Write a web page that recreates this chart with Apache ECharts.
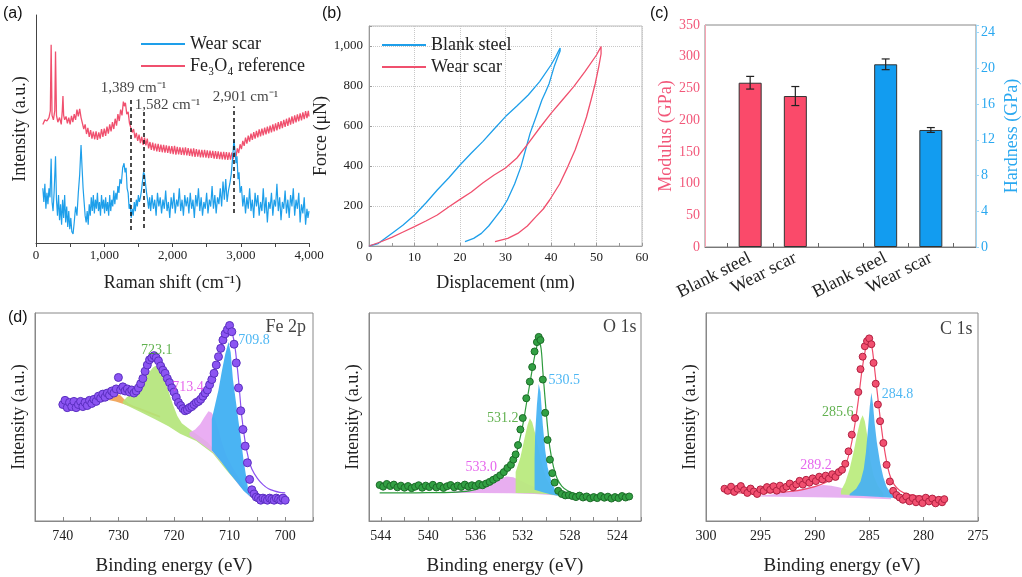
<!DOCTYPE html>
<html><head><meta charset="utf-8">
<script src="https://cdn.jsdelivr.net/npm/echarts@6/dist/echarts.min.js"></script>
<style>html,body{margin:0;padding:0;background:#fff}#c{width:1022px;height:577px}</style>
</head><body><div id="c"></div>
<script>
// ---------- (a) Raman spectra ----------
const ramanFe3O4 = [[100,52],[130,54],[160,53.5],[190,55],[210,58],[222,87],[235,56],[255,54],[275,58],[286,84],[300,56],[320,53],[345,55],[370,52],[385,58],[395,64.5],[405,56],[420,54],[440,55.5],[460,52.5],[480,55],[500,52],[520,55.8],[540,53],[560,56.5],[580,54],[600,58.5],[620,55.5],[640,58.8],[660,55],[680,54.5],[700,50],[720,52],[740,47.8],[760,50.5],[780,46.5],[800,49.5],[820,45.8],[840,48.8],[860,45.5],[880,49],[900,45.2],[920,48.5],[940,45.8],[960,50],[980,46.5],[1000,50.2],[1020,47],[1040,51],[1060,48],[1080,52],[1100,49],[1120,53],[1140,50],[1160,54.5],[1180,51.5],[1200,56.5],[1220,53.5],[1240,58.5],[1260,56],[1280,62],[1295,60],[1310,61.5],[1330,56.5],[1350,57.5],[1370,52.5],[1390,53],[1410,48.5],[1430,50],[1450,46],[1470,48.3],[1490,44.8],[1510,47.5],[1530,43.8],[1550,46.6],[1570,43],[1590,46.2],[1610,42.8],[1630,45.8],[1650,41.5],[1670,44.3],[1690,40.8],[1710,44],[1730,40.5],[1750,43.6],[1770,40.2],[1790,43.5],[1810,40],[1830,43.2],[1850,39.8],[1870,43],[1890,39.6],[1910,42.8],[1930,39.5],[1950,42.6],[1970,39.2],[1990,42.5],[2010,39],[2030,42.6],[2050,38.8],[2070,42.2],[2090,38.9],[2110,42],[2130,38.6],[2150,41.8],[2170,38.5],[2190,42],[2210,38.4],[2230,41.6],[2250,38.2],[2270,41.4],[2290,38],[2310,41.5],[2330,37.8],[2350,41.2],[2370,37.9],[2390,41],[2410,37.6],[2430,40.8],[2450,37.5],[2470,40.9],[2490,37.4],[2510,40.6],[2530,37.2],[2550,40.5],[2570,37.3],[2590,40.4],[2610,37],[2630,40.3],[2650,36.9],[2670,40.2],[2690,36.8],[2710,40],[2730,36.7],[2750,40],[2770,36.6],[2790,39.9],[2810,36.5],[2830,39.8],[2850,36.6],[2870,39.6],[2890,36.8],[2910,39.8],[2930,37.8],[2950,41.5],[2970,39.5],[2990,43.3],[3010,41.2],[3030,44.8],[3050,42.6],[3070,46.2],[3090,43.6],[3110,47.1],[3130,44.5],[3150,48],[3170,45.2],[3190,48.6],[3210,45.8],[3230,49.2],[3250,46.3],[3270,49.8],[3290,46.8],[3310,50.2],[3330,47.2],[3350,50.6],[3370,47.6],[3390,51],[3410,48.1],[3430,51.5],[3450,48.5],[3470,52],[3490,49],[3510,52.5],[3530,49.4],[3550,53],[3570,49.9],[3590,53.5],[3610,50.4],[3630,54],[3650,50.9],[3670,54.5],[3690,51.4],[3710,55],[3730,51.9],[3750,55.5],[3770,52.4],[3790,56],[3810,52.9],[3830,56.4],[3850,53.4],[3870,56.9],[3890,53.8],[3910,57.3],[3930,54.3],[3950,57.8],[3970,54.8],[3990,58],[4000,55.5]];
const ramanWearScar = [[100,24],[115,18],[130,26],[145,15],[160,22],[175,17],[190,24],[205,20],[222,37],[235,18],[250,14],[265,22],[286,38],[300,19],[315,12],[330,21],[345,10],[360,17],[375,8],[390,19],[405,11],[420,21],[435,9],[450,16],[465,7],[480,14],[495,6],[510,11],[525,5],[543,4],[560,9],[580,16],[600,12],[620,22],[640,30],[660,43],[675,33],[690,24],[705,18],[720,12],[735,9],[750,14],[765,8],[780,17],[795,12],[810,20],[825,14],[840,21],[855,13],[870,19],[885,15],[900,22],[915,14],[930,18],[945,12],[960,21],[975,15],[990,19],[1005,13],[1020,20],[1035,14],[1050,18],[1065,12],[1080,21],[1095,14],[1110,19],[1125,16],[1140,23],[1155,17],[1170,22],[1185,19],[1200,25],[1215,22],[1230,28],[1250,26],[1270,33],[1290,35],[1305,31],[1320,33],[1335,24],[1350,22],[1365,15],[1380,17],[1395,11],[1410,15],[1425,12],[1440,18],[1455,14],[1470,19],[1485,16],[1500,21],[1515,18],[1530,20],[1545,23],[1560,27],[1575,31],[1590,30],[1605,26],[1620,22],[1635,19],[1650,15],[1665,20],[1680,14],[1700,21],[1720,15],[1740,19],[1760,12],[1780,22],[1800,16],[1820,20],[1840,13],[1860,19],[1880,15],[1900,23],[1920,14],[1940,18],[1960,11],[1980,20],[2000,15],[2020,22],[2040,13],[2060,19],[2080,16],[2100,24],[2120,14],[2140,19],[2160,12],[2180,21],[2200,16],[2220,20],[2240,13],[2260,22],[2280,15],[2300,19],[2320,11],[2340,21],[2360,16],[2380,24],[2400,14],[2420,20],[2440,12],[2460,18],[2480,15],[2500,22],[2520,13],[2540,19],[2560,16],[2580,25],[2600,15],[2620,21],[2640,13],[2660,20],[2680,17],[2700,24],[2720,16],[2740,27],[2760,19],[2780,28],[2800,18],[2820,23],[2840,26],[2860,30],[2880,37],[2900,45],[2915,41],[2930,35],[2945,38],[2960,28],[2975,31],[2990,22],[3010,25],[3030,16],[3050,21],[3070,13],[3090,20],[3110,15],[3130,24],[3150,14],[3170,19],[3190,11],[3210,22],[3230,16],[3250,21],[3270,12],[3290,18],[3310,14],[3330,24],[3350,13],[3370,20],[3390,9],[3410,18],[3430,15],[3450,22],[3470,12],[3490,19],[3510,16],[3530,26],[3550,14],[3570,20],[3590,10],[3610,18],[3630,15],[3650,23],[3670,13],[3690,19],[3710,11],[3730,21],[3750,16],[3770,24],[3790,12],[3810,19],[3830,15],[3850,22],[3870,9],[3890,17],[3910,13],[3930,20],[3950,8],[3970,15],[3985,11],[4000,14]];
const ramanPeakLines = [[1389, 5.7, 64], [1582, 6.6, 57.5], [2901, 13.2, 60]];
const ramanPeakLabels = [[1429, 68, '1,389 cm⁻¹'], [1927, 60.5, '1,582 cm⁻¹'], [3070, 64, '2,901 cm⁻¹']];

// ---------- (b) load-displacement ----------
const blankLoading = [[0,0],[2,12],[5,63],[7.5,105],[10,155],[12.5,215],[15,280],[17.5,340],[20,405],[22.5,465],[25,522],[27.5,585],[30,647],[32.5,700],[35,755],[37.5,822],[40,905],[41,945],[42,990],[42.3,1000]];
const blankUnloading = [[42.3,1000],[42,975],[41.4,940],[40.7,897],[39.6,813],[38.8,770],[38,730],[36.7,645],[35.4,563],[34.4,480],[33.4,397],[32,310],[30.4,230],[29.2,185],[27.9,147],[26.3,100],[24.7,63],[23,38],[21.1,22]];
const scarLoading = [[0,0],[2.5,20],[5,43],[7.5,70],[10,97],[12.5,125],[15,155],[17.5,195],[20,233],[22.5,270],[25,315],[27.5,355],[30,390],[32.5,440],[35,513],[37.5,590],[40,663],[42.5,730],[45,797],[47.5,873],[50,955],[51,997]];
const scarUnloading = [[51.2,1000],[51,960],[50.5,897],[49.7,810],[48.8,730],[47.8,645],[46.6,563],[45.3,480],[43.7,397],[41.9,310],[39.7,230],[38.3,185],[36.7,147],[34.8,100],[32.7,63],[30.5,38],[27.7,22]];

// ---------- (c) modulus / hardness ----------
const mechCategories = ['Blank steel', 'Wear scar'];
const modulusPositions = [1, 2];
const modulusValues = [259, 238];
const modulusErrors = [10, 15];
const hardnessPositions = [4, 5];
const hardnessValues = [20.45, 13.1];
const hardnessErrors = [0.6, 0.27];

// ---------- (d) XPS ----------
const fe2pPoints = [[740.0,56],[739.6,58],[739.2,54.5],[738.8,57],[738.4,55],[738.0,57.5],[737.6,54.5],[737.2,56],[736.8,57.5],[736.4,55],[736.0,57],[735.6,55.5],[735.2,58],[734.8,56.5],[734.4,58.5],[734.0,57.5],[733.6,60],[733.2,59],[732.8,61],[732.4,59.5],[732.0,61.5],[731.6,60.5],[731.2,62.5],[730.8,61.5],[730.4,63.5],[730.0,69],[729.6,63],[729.2,64.5],[728.8,62.5],[728.4,63.5],[728.0,62],[727.6,63],[727.2,61.5],[726.8,62.5],[726.4,64],[726.0,66],[725.6,68.5],[725.2,72],[724.8,75],[724.4,77.5],[724.0,78.5],[723.6,79.5],[723.2,78.5],[722.8,77],[722.4,74.5],[722.0,72.5],[721.6,71],[721.2,68.5],[720.8,66.5],[720.4,64],[720.0,62],[719.6,59.5],[719.2,57],[718.8,55.5],[718.4,54],[718.0,53],[717.6,53.5],[717.2,54.5],[716.8,55],[716.4,56],[716.0,57],[715.6,57.5],[715.2,58.5],[714.8,60],[714.4,61.5],[714.0,63],[713.6,65.5],[713.2,68],[712.8,71],[712.4,75],[712.0,79],[711.6,83],[711.2,87],[710.8,90],[710.4,92],[710.0,94],[709.6,91],[709.2,85],[708.8,76],[708.4,64],[708.0,53],[707.6,44],[707.2,36],[706.8,28],[706.4,20],[706.0,15],[705.6,13],[705.2,11.5],[704.8,11],[704.4,10],[704.0,11],[703.6,10.5],[703.2,10],[702.8,11],[702.4,10.5],[702.0,10],[701.6,11],[701.2,10.5],[700.8,10],[700.4,11],[700.0,10]];
const fe2pEnvelope = [[740,55.5],[736,57],[733,60],[731,62],[729,63],[727,62.5],[725.5,67],[724.3,75],[723.3,78],[722,73],[720.5,64.5],[719,56],[717.5,52],[716,55.5],[714.5,60.5],[713,68],[712,77],[711,88],[710.2,93],[709.6,91],[709,83],[708.4,68],[707.8,50],[707.2,38],[706.6,30],[706,25],[705,20.5],[704,17.5],[703,15.5],[702,14.5],[701,13.8],[700,13.5]];
const fe2pSatellite = [[733.3,58.8],[732.2,59.3],[731.2,60.2],[730.4,61.3],[729.7,60.6],[729.0,58.6],[728.2,56.6],[727.2,55.3],[726.0,54.2],[724.5,52.6],[722.5,50.6],[722.5,49.6],[724.5,51.6],[726.5,53.8],[728.5,55.8],[730.5,57.4],[732.5,58.5]];
const fe2pPeak723 = [[729.2,57.5],[728.5,59.5],[727.6,61],[726.6,63],[725.6,66.5],[724.6,71],[723.8,73.8],[723.3,74.6],[722.6,73],[721.8,68.5],[721.0,62.5],[720.2,56],[719.4,50.5],[718.6,47],[717.6,45],[716.6,43],[715.4,40.8],[714,38],[712.5,33.5],[711,28.5],[709.5,23.5],[708,18.5],[706.8,14.5],[706,12],[706,11],[707.5,15],[708.5,18],[710.6,24.5],[713,32.5],[716,38.5],[718.9,42],[721,45.5],[723.5,49],[726.5,53],[729.2,56.5]];
const fe2pPeak713 = [[717.2,42.5],[716.2,44],[715.3,46.5],[714.5,50],[713.8,52.8],[713.2,52],[712.6,49],[712,44],[711.3,37],[710.5,31],[709.5,26],[708.3,20.5],[707,15.5],[706.3,13],[706.3,11.5],[708.2,16.8],[710.6,25.5],[713,33],[716,39],[717.2,41]];
const fe2pPeak709 = [[713.2,49],[712.6,56],[712,63],[711.4,72],[710.8,80],[710.2,86],[709.8,81],[709.4,68],[708.9,58],[708.4,48],[707.9,38],[707.5,29.5],[707,21],[706.6,14.2],[706.2,11.5],[707.5,14.5],[708.5,18],[710,23],[711.5,28.5],[713.2,34]];
const fe2pLabels = [[723.1, 82, '723.1', '#3a9d23'], [717.5, 64.2, '713.4', '#e040e8'], [705.6, 86.7, '709.8', '#22a5f0'], [699.9, 93, 'Fe 2p', '#111']];

const o1sPoints = [[544.1,17.3],[543.8,16.5],[543.5,17.8],[543.2,16.8],[542.9,17.5],[542.6,16.2],[542.3,17],[542.0,16],[541.7,16.8],[541.4,15.8],[541.1,16.5],[540.8,17.2],[540.5,16],[540.2,17],[539.9,16.3],[539.6,17.4],[539.3,16.1],[539.0,16.9],[538.7,15.9],[538.4,16.7],[538.1,17.3],[537.8,16.2],[537.5,17],[537.2,16.4],[536.9,17.5],[536.6,16.6],[536.3,17.2],[536.0,16.8],[535.7,17.8],[535.4,17.2],[535.1,18],[534.8,18.8],[534.5,19.8],[534.2,20.8],[533.9,22],[533.6,23.5],[533.3,25.5],[533.0,27],[532.8,29.5],[532.6,32],[532.4,36.5],[532.2,44],[532.0,49.5],[531.7,59],[531.4,67],[531.2,74],[531.0,81.5],[530.8,86],[530.65,88.5],[530.5,87],[530.3,68],[530.1,52],[529.9,39],[529.7,29.5],[529.5,23],[529.3,18.5],[529.0,14.5],[528.7,13],[528.4,12.3],[528.1,12.5],[527.8,12],[527.5,11.5],[527.2,12.2],[526.9,11.3],[526.6,11.8],[526.3,10.9],[526.0,11.5],[525.7,11],[525.4,12],[525.1,11.2],[524.8,11.7],[524.5,10.8],[524.2,11.5],[523.9,11],[523.6,12],[523.3,11.3],[523.0,11.8]];
const o1sEnvelope = [[544.1,13.5],[542,13.5],[540,13.6],[538,13.8],[536.5,14.5],[535.5,16],[534.8,18],[534.2,20],[533.6,23],[533,27],[532.6,31.5],[532.3,38],[532,46],[531.7,56],[531.4,66],[531.1,76],[530.85,83],[530.65,86.5],[530.45,83],[530.3,72],[530.1,58],[529.9,45],[529.7,35],[529.4,26],[529.1,20.5],[528.7,16.8],[528.2,14.5],[527.5,13],[526.5,12],[525,11.6],[523,11.4]];
const o1sPeak533 = [[539.5,13.6],[538,14.1],[536.5,15],[535.3,16.5],[534.5,18.3],[533.9,20.2],[533.4,21.4],[532.8,21],[532.2,19.5],[531.6,17.8],[530.8,16],[530,14.5],[529,12.8],[529,12.2],[531,13],[533,13.4],[536,13.5],[539.5,13.5]];
const o1sPeak531 = [[532.6,13.5],[532.6,23.5],[532.2,30.5],[531.9,38.5],[531.6,46],[531.4,49.4],[531.2,47.5],[530.9,41],[530.6,33],[530.3,26],[530,20.5],[529.6,16.5],[529.2,14],[528.8,12.6],[528.8,12],[530,13],[531.2,13.3]];
const o1sPeak530 = [[531.0,15],[531.0,30],[530.95,42],[530.8,56],[530.65,65.9],[530.5,62],[530.3,46],[530.1,34],[529.9,26],[529.6,19.5],[529.3,15.5],[528.9,12.5],[528.9,12],[529.6,12.8],[530.3,13.8]];
const o1sLabels = [[528.5, 67.4, '530.5', '#22a5f0'], [533.7, 49.5, '531.2', '#3a9d23'], [535.5, 26, '533.0', '#e040e8'], [523.8, 93, 'O 1s', '#111']];

const c1sPoints = [[298.3,15.5],[298.0,14.5],[297.7,16.5],[297.4,14],[297.1,15.5],[296.8,16.8],[296.5,14.8],[296.2,13.5],[295.9,15.6],[295.6,14.2],[295.3,13],[295.0,15.2],[294.7,14.4],[294.4,16.3],[294.1,15],[293.8,16.7],[293.5,14.6],[293.2,17],[292.9,15.4],[292.6,16.5],[292.3,18],[292.0,16.2],[291.7,17.6],[291.4,19.3],[291.1,17.5],[290.8,19.8],[290.5,18.4],[290.2,20.5],[289.9,19.2],[289.6,21.3],[289.3,20],[289.0,21.8],[288.7,20.4],[288.4,22.5],[288.1,21.2],[287.8,23.5],[287.5,24.6],[287.2,27.5],[286.9,33.5],[286.6,41.5],[286.3,49.5],[286.0,62],[285.8,73],[285.6,79],[285.4,84],[285.2,86.5],[285.0,87.8],[284.8,85],[284.6,76],[284.4,66],[284.2,56],[284.0,48],[283.7,37.5],[283.4,27],[283.1,19],[282.8,14.5],[282.5,12.5],[282.2,11.3],[281.9,10.2],[281.6,11.8],[281.3,9.5],[281.0,11],[280.7,9],[280.4,10.6],[280.1,8.6],[279.8,11.2],[279.5,9.4],[279.2,10.8],[278.9,8.5],[278.6,10.2],[278.3,9],[278.1,10.5]];
const c1sEnvelope = [[298.3,13.5],[296,13.5],[294,13.6],[292,14.3],[291,15.2],[290,16.5],[289,18.5],[288,21.5],[287.5,24],[287,29.5],[286.6,38],[286.3,47],[286,58],[285.7,71],[285.4,81],[285.1,87.2],[284.9,87],[284.7,82],[284.5,73],[284.2,59],[284,50],[283.7,38],[283.4,28.5],[283.1,22],[282.7,17.5],[282.2,14.7],[281.5,13],[280,11.8],[278.2,11.2]];
const c1sPeak289 = [[295.5,12],[294,12.8],[293,13.6],[292,14.6],[291,15.8],[290,16.8],[289.2,17.3],[288.5,17],[287.8,16.2],[287,15],[286,13.6],[285,12.5],[284,11.6],[283,11],[283,10.5],[286,11],[290,11.4],[295.5,11.8]];
const c1sPeak285 = [[287.6,12.8],[287.6,14.5],[287.2,18.5],[286.8,25],[286.4,34],[286.1,42],[285.8,48.5],[285.6,50.9],[285.4,48],[285.2,41.7],[284.9,29.5],[284.6,22],[284.2,17],[283.7,13.5],[283.7,12],[285.5,12.3]];
const c1sPeak284 = [[286.8,12.3],[286.8,13],[286.2,15.5],[285.8,19],[285.5,25],[285.3,33],[285.1,45],[284.95,55],[284.8,61.6],[284.65,56],[284.5,47],[284.3,38],[284.0,28],[283.7,21],[283.4,16.5],[283.0,13.2],[282.7,12],[282.7,11],[284,11.5],[285.5,12]];
const c1sLabels = [[282.4, 61, '284.8', '#22a5f0'], [287.9, 52.3, '285.6', '#3a9d23'], [289.9, 26.6, '289.2', '#e040e8'], [277.0, 92, 'C 1s', '#111']];

// ---------- styling ----------
const SERIF = 'Liberation Serif';
const SANS = 'Liberation Sans';
const BLUE = '#1E9FEA', RED = '#F0506E';
const thousands = v => Number(v).toLocaleString('en-US');

function polySeries(ai, poly, color) {
  return { type: 'custom', xAxisIndex: ai, yAxisIndex: ai, silent: true, z: 1, data: [poly[0]],
    renderItem: (params, api) => ({ type: 'polygon', shape: { points: poly.map(p => api.coord(p)) },
      style: { fill: color } }) };
}
function labelSeries(xi, yi, arr, size) {
  return { type: 'scatter', xAxisIndex: xi, yAxisIndex: yi, silent: true, symbolSize: 1, z: 10,
    itemStyle: { color: 'rgba(0,0,0,0)' },
    data: arr.map(([x, y, t, c]) => ({ value: [x, y], name: t,
      label: { show: true, position: 'inside', formatter: t, color: c || '#111',
        fontFamily: SERIF, fontSize: (t.indexOf(' ') > 0 && t.length < 6 ? 18 : size) } })) };
}
function errorSeries(xi, yi, pos, vals, errs) {
  return { type: 'custom', xAxisIndex: xi, yAxisIndex: yi, silent: true, z: 5,
    data: pos.map((p, i) => [p, vals[i], errs[i]]),
    renderItem: (params, api) => {
      const x = api.value(0), m = api.value(1), e = api.value(2);
      const t = api.coord([x, m + e]), b = api.coord([x, m - e]);
      const st = { stroke: '#222', lineWidth: 1.2 };
      return { type: 'group', children: [
        { type: 'line', shape: { x1: t[0], y1: t[1], x2: b[0], y2: b[1] }, style: st },
        { type: 'line', shape: { x1: t[0] - 4, y1: t[1], x2: t[0] + 4, y2: t[1] }, style: st },
        { type: 'line', shape: { x1: b[0] - 4, y1: b[1], x2: b[0] + 4, y2: b[1] }, style: st }] };
    } };
}
const nameStyle = { fontFamily: SERIF, fontSize: 18, color: '#222' };
function xpsX(gi, min, max, interval, labelEvery) {
  return { type: 'value', gridIndex: gi, inverse: true, min: min, max: max, interval: interval,
    name: 'Binding energy (eV)', nameLocation: 'middle', nameGap: 36,
    nameTextStyle: { fontFamily: SERIF, fontSize: 19, color: '#222' },
    axisLine: { lineStyle: { color: '#888', width: 1 } },
    axisTick: { inside: true, length: 4, lineStyle: { color: '#888' } },
    axisLabel: { margin: 8, fontFamily: SERIF, fontSize: 14, color: '#222',
      formatter: v => (Math.round(v) % labelEvery === 0 ? String(v) : '') },
    splitLine: { show: false } };
}
function xpsY(gi) {
  return { type: 'value', gridIndex: gi, min: 0, max: 100, name: 'Intensity (a.u.)',
    nameLocation: 'middle', nameGap: 7, nameRotate: 90, nameTextStyle: nameStyle,
    axisLine: { show: true, lineStyle: { color: '#888' } }, axisTick: { show: false },
    axisLabel: { show: false }, splitLine: { show: false } };
}
function scatterSeries(ai, pts, fill, edge, size) {
  return { type: 'scatter', xAxisIndex: ai, yAxisIndex: ai, data: pts, symbolSize: size, z: 6, silent: true,
    itemStyle: { color: fill, borderColor: edge, borderWidth: 1, opacity: 1 } };
}
function envSeries(ai, pts, color) {
  return { type: 'line', xAxisIndex: ai, yAxisIndex: ai, data: pts, symbol: 'none',
    smooth: 0.3, z: 4, silent: true, lineStyle: { color: color, width: 1.2 } };
}

const option = {
  backgroundColor: '#fff',
  animation: false,
  textStyle: { fontFamily: SERIF },
  graphic: [
    { type: 'text', left: 3, top: 6, style: { text: '(a)', font: '16px ' + SANS, fill: '#111' } },
    { type: 'text', left: 322, top: 6, style: { text: '(b)', font: '16px ' + SANS, fill: '#111' } },
    { type: 'text', left: 650, top: 6, style: { text: '(c)', font: '16px ' + SANS, fill: '#111' } },
    { type: 'text', left: 8, top: 310, style: { text: '(d)', font: '16px ' + SANS, fill: '#111' } }
  ],
  grid: [
    { left: 36, top: 15, width: 273, height: 228 },
    { left: 369, top: 26, width: 273, height: 220, show: true, borderColor: '#bbb', borderWidth: 1 },
    { left: 705, top: 25, width: 272, height: 222, show: true, borderColor: '#888', borderWidth: 1 },
    { left: 35, top: 313, width: 278, height: 218, show: true, borderColor: '#888', borderWidth: 1 },
    { left: 369, top: 313, width: 272, height: 218, show: true, borderColor: '#888', borderWidth: 1 },
    { left: 706, top: 313, width: 272, height: 218, show: true, borderColor: '#888', borderWidth: 1 }
  ],
  legend: [
    { data: ['Wear scar', 'Fe₃O₄ reference'], orient: 'vertical', left: 136, top: 30, icon: 'rect',
      itemWidth: 44, itemHeight: 2, itemGap: 4, selectedMode: false,
      textStyle: { fontFamily: SERIF, fontSize: 18, color: '#222' } },
    { data: ['Blank steel', 'Wear scar (b)'], orient: 'vertical', left: 377, top: 31, icon: 'rect',
      itemWidth: 44, itemHeight: 2, itemGap: 4, selectedMode: false,
      formatter: n => n.replace(' (b)', ''),
      textStyle: { fontFamily: SERIF, fontSize: 18, color: '#222' } }
  ],
  xAxis: [
    { type: 'value', gridIndex: 0, min: 0, max: 4000, interval: 1000,
      name: 'Raman shift (cm⁻¹)', nameLocation: 'middle', nameGap: 31, nameTextStyle: nameStyle,
      axisLine: { lineStyle: { color: '#444' } },
      axisTick: { length: 4, lineStyle: { color: '#444' } },
      minorTick: { show: true, splitNumber: 2, length: 4, lineStyle: { color: '#444' } },
      axisLabel: { margin: 6, fontFamily: SERIF, fontSize: 13, color: '#222', formatter: thousands },
      splitLine: { show: false } },
    { type: 'value', gridIndex: 1, min: 0, max: 60, interval: 10,
      name: 'Displacement (nm)', nameLocation: 'middle', nameGap: 28, nameTextStyle: nameStyle,
      axisLine: { lineStyle: { color: '#999' } },
      axisTick: { inside: true, length: 3, lineStyle: { color: '#999' } },
      minorTick: { show: true, splitNumber: 2, length: 3, lineStyle: { color: '#999' } },
      axisLabel: { margin: 5, fontFamily: SERIF, fontSize: 13, color: '#222' },
      splitLine: { show: true, lineStyle: { type: 'dotted', color: '#c8c8c8' } } },
    { type: 'value', gridIndex: 2, min: 0, max: 6, interval: 1,
      axisLine: { lineStyle: { color: '#777' } }, axisTick: { show: false },
      axisLabel: { rotate: 27, margin: 10, fontFamily: SERIF, fontSize: 18, color: '#222',
        formatter: v => { const i = modulusPositions.indexOf(v), j = hardnessPositions.indexOf(v);
          return i >= 0 ? mechCategories[i] : (j >= 0 ? mechCategories[j] : ''); } },
      splitLine: { show: false } },
    { type: 'category', gridIndex: 2, data: ['', '', '', '', '', ''], boundaryGap: true,
      axisLine: { show: false }, axisLabel: { show: false },
      axisTick: { show: true, alignWithLabel: true, length: 4, lineStyle: { color: '#666' } } },
    xpsX(3, 695, 745, 5, 10),
    xpsX(4, 522, 545, 2, 4),
    xpsX(5, 275, 300, 5, 5)
  ],
  yAxis: [
    { type: 'value', gridIndex: 0, min: 0, max: 100, name: 'Intensity (a.u.)', nameLocation: 'middle',
      nameGap: 7, nameRotate: 90, nameTextStyle: nameStyle,
      axisLine: { show: true, lineStyle: { color: '#444' } }, axisTick: { show: false },
      axisLabel: { show: false }, splitLine: { show: false } },
    { type: 'value', gridIndex: 1, min: 0, max: 1100, interval: 200, name: 'Force (μN)', nameLocation: 'middle',
      nameGap: 29, nameRotate: 90, nameTextStyle: nameStyle,
      axisLine: { show: true, lineStyle: { color: '#999' } },
      axisTick: { inside: true, length: 3, lineStyle: { color: '#999' } },
      axisLabel: { margin: 6, fontFamily: SERIF, fontSize: 13, color: '#222', formatter: v => (v > 1000 ? '' : thousands(v)) },
      splitLine: { show: true, lineStyle: { type: 'dotted', color: '#c8c8c8' } } },
    { type: 'value', gridIndex: 2, min: 0, max: 350, interval: 50, name: 'Modulus (GPa)', nameLocation: 'middle',
      nameGap: 30, nameRotate: 90, nameTextStyle: { fontFamily: SERIF, fontSize: 18, color: '#F2587A' },
      axisLine: { show: true, lineStyle: { color: '#F7A3B3' } }, axisTick: { show: false },
      axisLabel: { margin: 5, fontFamily: SERIF, fontSize: 14, color: '#F2587A' }, splitLine: { show: false } },
    { type: 'value', gridIndex: 2, position: 'right', min: 0, max: 24.85, interval: 4, name: 'Hardness (GPa)',
      nameLocation: 'middle', nameGap: 27, nameRotate: 90,
      nameTextStyle: { fontFamily: SERIF, fontSize: 18, color: '#2AA8F0' },
      axisLine: { show: true, lineStyle: { color: '#9ED8F8' } },
      axisTick: { show: true, length: 3, lineStyle: { color: '#9ED8F8' } },
      axisLabel: { margin: 5, fontFamily: SERIF, fontSize: 14, color: '#2AA8F0',
        formatter: v => (Math.abs(v % 4) < 1e-6 ? String(v) : '') }, splitLine: { show: false } },
    xpsY(3), xpsY(4), xpsY(5)
  ],
  series: [
    // (a)
    { name: 'Fe₃O₄ reference', type: 'line', xAxisIndex: 0, yAxisIndex: 0, data: ramanFe3O4, symbol: 'none',
      lineStyle: { color: RED, width: 1.3 }, itemStyle: { color: RED }, z: 2, silent: true,
      markLine: { symbol: ['none', 'none'], silent: true, animation: false, label: { show: false },
        lineStyle: { type: [4, 3], color: '#111', width: 1.5 },
        data: ramanPeakLines.map(([x, y0, y1]) => [{ coord: [x, y0] }, { coord: [x, y1] }]) } },
    { name: 'Wear scar', type: 'line', xAxisIndex: 0, yAxisIndex: 0, data: ramanWearScar, symbol: 'none',
      lineStyle: { color: BLUE, width: 1.2 }, itemStyle: { color: BLUE }, z: 3, silent: true },
    labelSeries(0, 0, ramanPeakLabels.map(([x, y, t]) => [x, y, t, '#111']), 15),
    // (b)
    { name: 'Blank steel', type: 'line', xAxisIndex: 1, yAxisIndex: 1, data: blankLoading.concat(blankUnloading),
      symbol: 'none', lineStyle: { color: BLUE, width: 1.3 }, itemStyle: { color: BLUE }, silent: true },
    { name: 'Wear scar (b)', type: 'line', xAxisIndex: 1, yAxisIndex: 1, data: scarLoading.concat(scarUnloading),
      symbol: 'none', lineStyle: { color: RED, width: 1.3 }, itemStyle: { color: RED }, silent: true },
    // (c)
    { name: 'Modulus', type: 'bar', xAxisIndex: 2, yAxisIndex: 2, barWidth: 23, barGap: '-100%', silent: true,
      data: modulusPositions.map((p, i) => [p, modulusValues[i]]),
      itemStyle: { color: '#FA4A6A', borderColor: '#333', borderWidth: 1 } },
    { name: 'Hardness', type: 'bar', xAxisIndex: 2, yAxisIndex: 3, barWidth: 23, barGap: '-100%', silent: true,
      data: hardnessPositions.map((p, i) => [p, hardnessValues[i]]),
      itemStyle: { color: '#129CF0', borderColor: '#333', borderWidth: 1 } },
    errorSeries(2, 2, modulusPositions, modulusValues, modulusErrors),
    errorSeries(2, 3, hardnessPositions, hardnessValues, hardnessErrors),
    // (d) Fe 2p : xAxis 4 / yAxis 4
    polySeries(4, fe2pSatellite, 'rgba(240,160,80,0.9)'),
    polySeries(4, fe2pPeak723, 'rgba(178,228,120,0.9)'),
    polySeries(4, fe2pPeak713, 'rgba(232,165,242,0.9)'),
    polySeries(4, fe2pPeak709, 'rgba(64,176,242,0.95)'),
    envSeries(4, fe2pEnvelope, '#8C52F0'),
    scatterSeries(4, fe2pPoints, '#8C55F2', '#5a2fc0', 8),
    labelSeries(4, 4, fe2pLabels, 14),
    // O 1s : 5 / 5
    polySeries(5, o1sPeak533, 'rgba(230,165,238,0.9)'),
    polySeries(5, o1sPeak531, 'rgba(185,234,126,0.95)'),
    polySeries(5, o1sPeak530, 'rgba(72,180,244,0.95)'),
    envSeries(5, o1sEnvelope, '#2E9B3E'),
    scatterSeries(5, o1sPoints, '#32A043', '#1c6b28', 7),
    labelSeries(5, 5, o1sLabels, 14),
    // C 1s : 6 / 6
    polySeries(6, c1sPeak289, 'rgba(228,168,240,0.9)'),
    polySeries(6, c1sPeak285, 'rgba(188,236,128,0.95)'),
    polySeries(6, c1sPeak284, 'rgba(74,178,240,0.95)'),
    envSeries(6, c1sEnvelope, '#F04B6B'),
    scatterSeries(6, c1sPoints, '#F25070', '#b02040', 7),
    labelSeries(6, 6, c1sLabels, 14)
  ]
};
const chart = echarts.init(document.getElementById('c'), null, { renderer: 'canvas' });
chart.setOption(option);
</script>
</body></html>
